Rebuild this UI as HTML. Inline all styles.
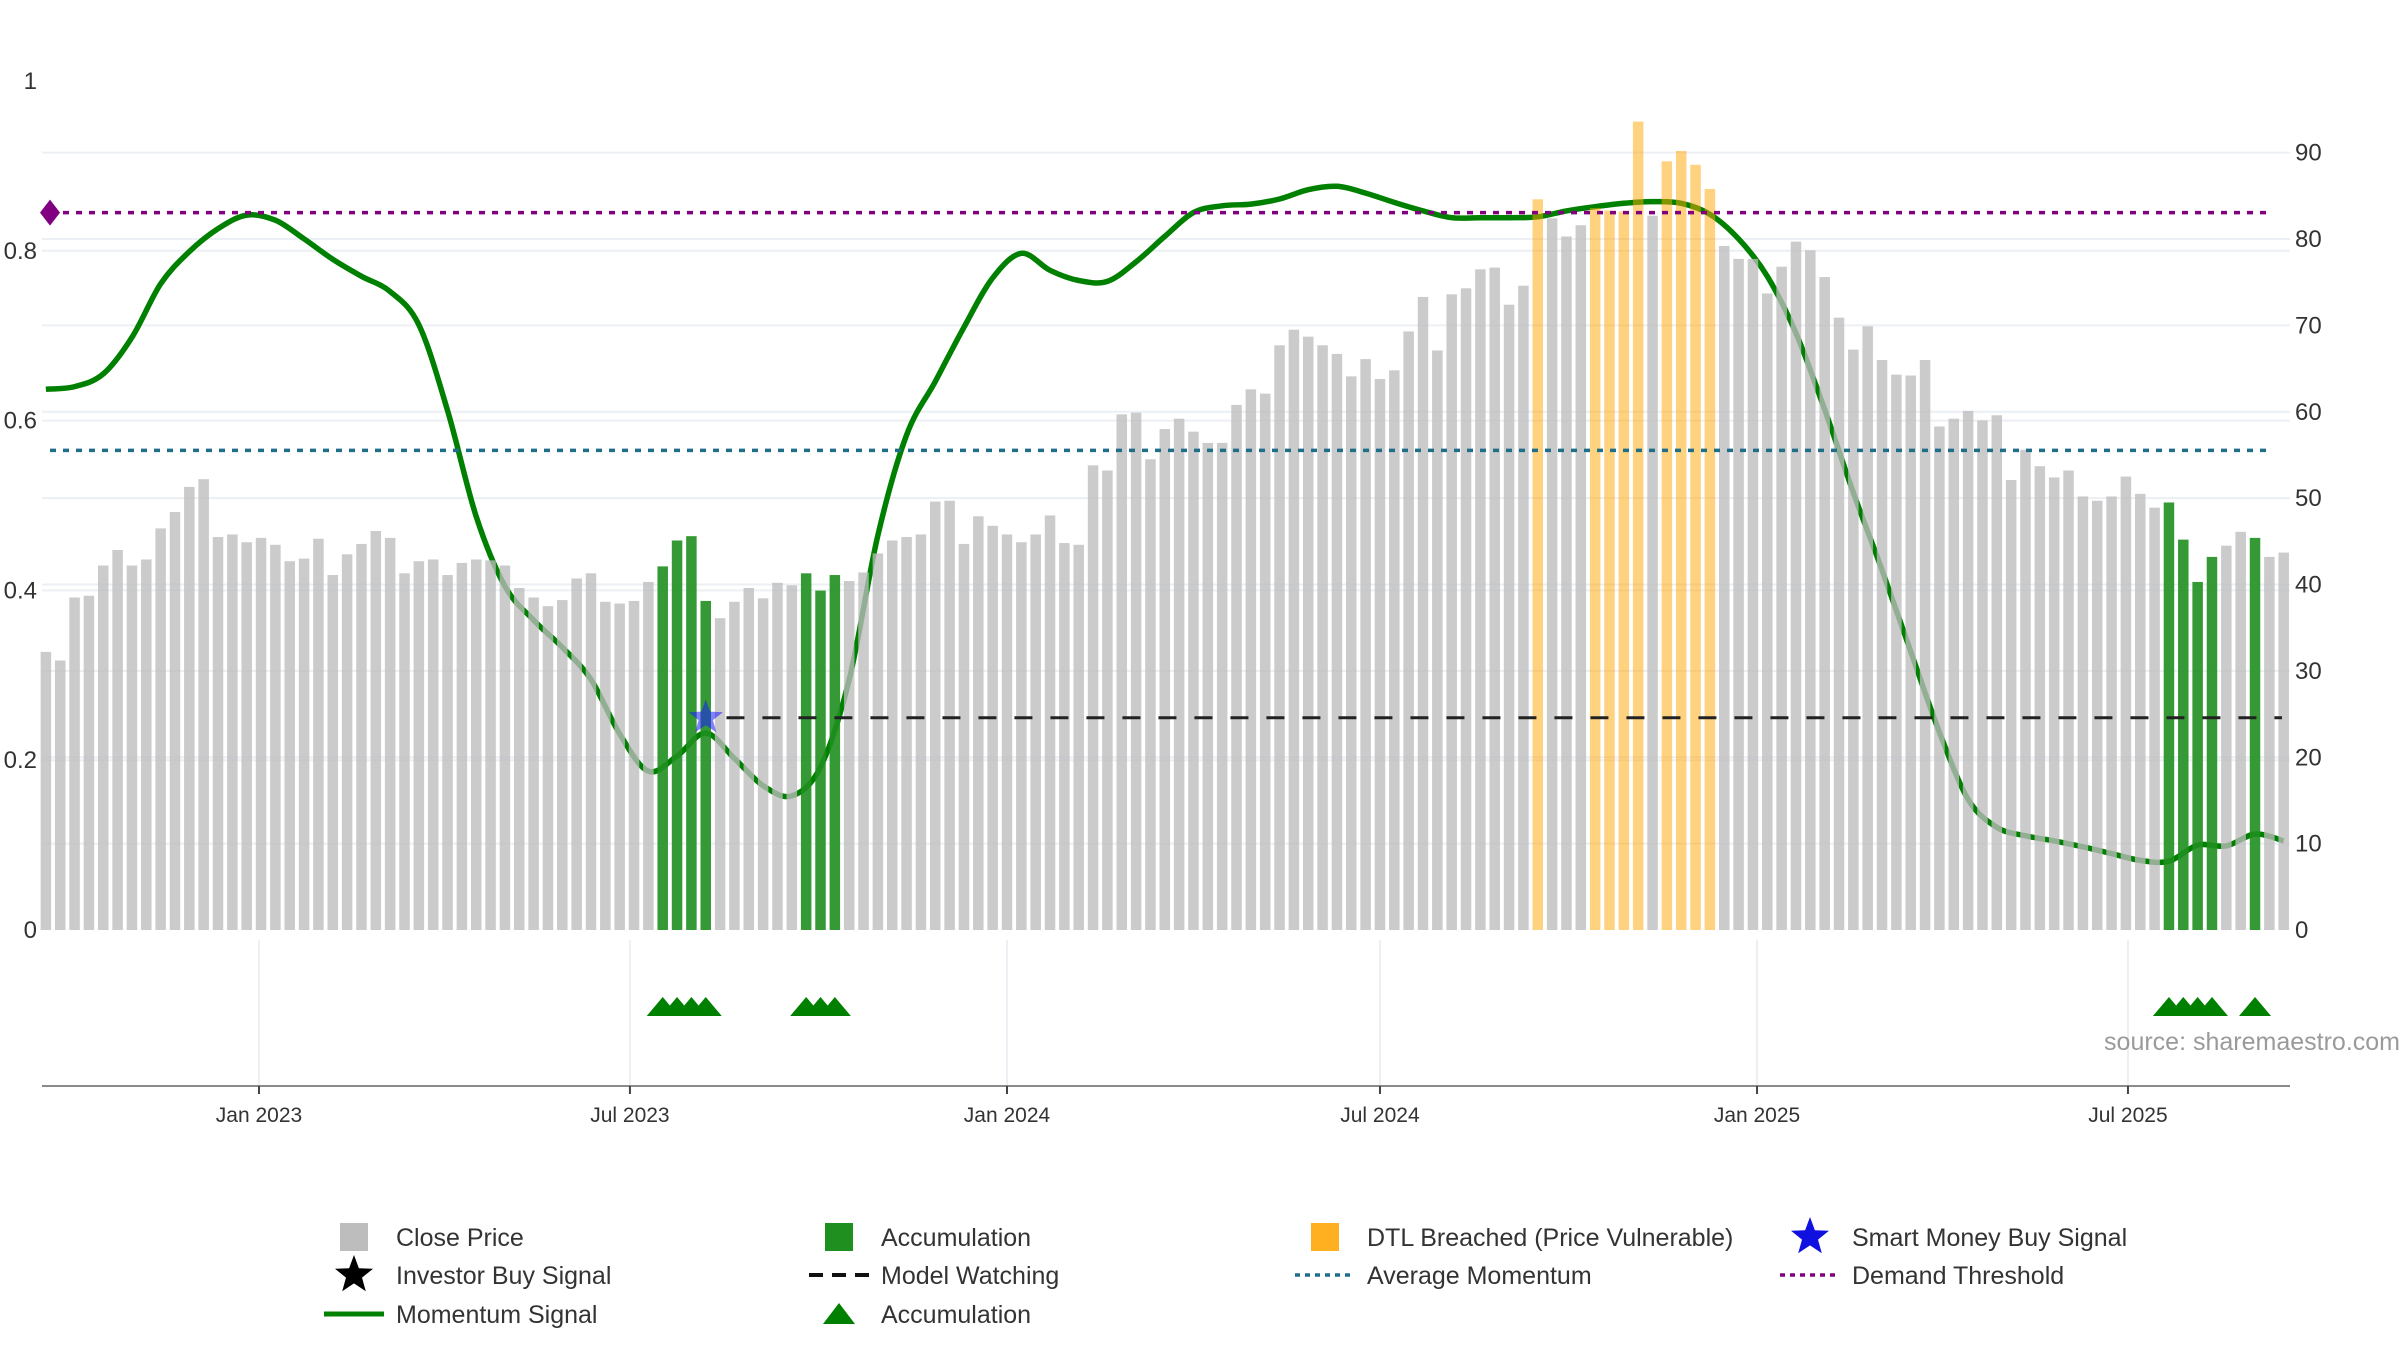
<!DOCTYPE html>
<html><head><meta charset="utf-8"><style>
html,body{margin:0;padding:0;background:#fff;}
svg text{font-family:"Liberation Sans","DejaVu Sans",sans-serif;}
</style></head><body>
<svg id="chart" width="2400" height="1350" viewBox="0 0 2400 1350" xmlns="http://www.w3.org/2000/svg">
<g id="grid"></g>
<g id="lines-under"></g>
<g id="bars"></g>
<g id="refs"></g>
<g id="axes"></g>
<g id="tri"></g>
<text x="2400" y="1050" text-anchor="end" font-size="25" fill="#9a9a9a">source: sharemaestro.com</text>
<g id="legend"></g>
</svg>
<script>
// ---- data ----
const closePrice = [32.2,31.2,38.5,38.7,42.2,44.0,42.2,42.9,46.5,48.4,51.3,52.2,45.5,45.8,44.9,45.4,44.6,42.7,43.0,45.3,41.1,43.5,44.7,46.2,45.4,41.3,42.7,42.9,41.1,42.5,42.9,42.8,42.2,39.6,38.5,37.5,38.2,40.7,41.3,38.0,37.8,38.1,40.3,42.1,45.1,45.6,38.1,36.1,38.0,39.6,38.4,40.2,39.9,41.3,
39.3,41.1,40.4,41.4,43.6,45.1,45.5,45.8,49.6,49.7,44.7,47.9,46.8,45.8,44.9,45.8,48.0,44.8,44.6,53.8,53.2,59.7,59.9,54.5,58.0,59.2,57.7,56.4,56.4,60.8,62.6,62.1,67.7,69.5,68.7,67.7,66.7,64.1,66.1,63.8,64.8,69.3,73.3,67.1,73.6,74.3,76.5,76.7,72.4,74.6,84.6,82.4,80.3,81.6,
83.6,83.3,83.2,93.6,82.7,89.0,90.2,88.6,85.8,79.2,77.7,77.7,73.7,76.8,79.7,78.7,75.6,70.9,67.2,69.9,66.0,64.3,64.2,66.0,58.3,59.2,60.1,59.0,59.6,52.1,55.6,53.7,52.4,53.2,50.2,49.7,50.2,52.5,50.5,48.9,49.5,45.2,40.3,43.2,44.5,46.1,45.4,43.2,43.7];
const accumulationWeeks = [43,44,45,46,53,54,55,148,149,150,151,154];
const dtlWeeks = [104,108,109,110,111,113,114,115,116];
const momentumWeeks = [0,2,4,6,8,10,12,14,16,18,20,22,24,26,28,30,32,34,36,38,40,42,44,46,48,50,52,54,56,58,60,62,64,66,68,70,72,74,76,78,80,82,84,86,88,90,92,94,96,98,100,102,104,106,108,110,112,114,116,118,120,122,124,126,128,130,132,134,136,138,140,142,144,146,148,150,152,154,156];
const momentum = [0.637,0.640,0.655,0.698,0.761,0.799,0.826,0.842,0.836,0.814,0.790,0.770,0.752,0.713,0.612,0.487,0.405,0.365,0.333,0.295,0.231,0.187,0.205,0.232,0.202,0.170,0.158,
0.192,0.295,0.465,0.583,0.646,0.710,0.768,0.797,0.777,0.765,0.764,0.787,0.817,0.845,0.853,0.855,0.861,0.872,0.876,0.868,0.857,0.847,0.839,0.839,0.839,0.840,0.847,0.852,
0.856,0.858,0.856,0.843,0.814,0.770,0.703,0.613,0.515,0.424,0.328,0.233,0.154,0.121,0.111,0.105,0.098,0.090,0.082,0.081,0.100,0.099,0.113,0.105];
const demandThreshold = 0.845;
const averageMomentum = 0.565;
const modelWatching = 0.25;
const modelWatchStartWeek = 48;
const signalWeek = 46;
const leftTicks = [0,0.2,0.4,0.6,0.8,1];
const leftTickLabels = ["0","0.2","0.4","0.6","0.8","1"];
const rightTicks = [0,10,20,30,40,50,60,70,80,90];
const xTickDays = [0,181,365,547,731,912];
const xTickLabels = ["Jan 2023","Jul 2023","Jan 2024","Jul 2024","Jan 2025","Jul 2025"];
const firstWeekDay = -104; // days from Jan 1 2023

// ---- scales ----
const NS="http://www.w3.org/2000/svg";
const X0=42, X1=2290, Y0=930;
const xDay = d => 259 + d*2.0493;
const xWeek = w => xDay(firstWeekDay + 7*w);
const yL = v => Y0 - v*849;
const yR = v => Y0 - v*(849/98.3);
function mk(tag, attrs, parent){const e=document.createElementNS(NS,tag);for(const k in attrs)e.setAttribute(k,attrs[k]);parent.appendChild(e);return e;}
const G=id=>document.getElementById(id);

// grid
rightTicks.forEach(t=>{if(t===0)return;const l=mk('line',{x1:X0,x2:X1,y1:yR(t),y2:yR(t),stroke:'#eceff3','stroke-width':2},G('grid'));

});
leftTicks.forEach(t=>{if(t===0||t===1)return;const l=mk('line',{x1:X0,x2:X1,y1:yL(t),y2:yL(t),stroke:'#eceff3','stroke-width':2},G('grid'));

});
xTickDays.forEach(d=>{const l=mk('line',{x1:xDay(d),x2:xDay(d),y1:940,y2:1086,stroke:'#eceff3','stroke-width':2},G('grid'));

});

// momentum line (smooth)
function smooth(pts){let d=`M${pts[0][0]},${pts[0][1]}`;for(let i=0;i<pts.length-1;i++){const p0=pts[i-1]||pts[i],p1=pts[i],p2=pts[i+1],p3=pts[i+2]||p2;
const c1=[p1[0]+(p2[0]-p0[0])/6,p1[1]+(p2[1]-p0[1])/6],c2=[p2[0]-(p3[0]-p1[0])/6,p2[1]-(p3[1]-p1[1])/6];
d+=` C${c1[0].toFixed(1)},${c1[1].toFixed(1)} ${c2[0].toFixed(1)},${c2[1].toFixed(1)} ${p2[0].toFixed(1)},${p2[1].toFixed(1)}`;}return d;}
const mpts=momentumWeeks.map((w,i)=>[xWeek(w),yL(momentum[i])]);
const ml=mk('path',{d:smooth(mpts),fill:'none',stroke:'#008000','stroke-width':5.5,'stroke-linejoin':'round'},G('lines-under'));



// bars
closePrice.forEach((v,i)=>{let fill='#bdbdbd',op=0.78,name='close-price-bar';
if(accumulationWeeks.includes(i)){fill='#1f8f1f';op=0.9;name='accumulation-bar';}
else if(dtlWeeks.includes(i)){fill='#ffa500';op=0.5;name='dtl-breached-bar';}
const bw=10.5;const r=mk('rect',{x:xWeek(i)-bw/2,y:yR(v),width:bw,height:Y0-yR(v),fill:fill,opacity:op},G('bars'));

});

// reference lines
const dl=mk('line',{x1:50,x2:X1-20,y1:yL(demandThreshold),y2:yL(demandThreshold),stroke:'#800080','stroke-width':3.5,'stroke-dasharray':'6,7'},G('refs'));


const dm=mk('path',{d:`M${50-10},${yL(demandThreshold)} l10,-13 l10,13 l-10,13 z`,fill:'#800080'},G('refs'));


const al=mk('line',{x1:50,x2:X1-20,y1:yL(averageMomentum),y2:yL(averageMomentum),stroke:'#1f6f8b','stroke-width':3.5,'stroke-dasharray':'6,7'},G('refs'));


const wl=mk('line',{x1:xWeek(modelWatchStartWeek)-8,x2:X1-8,y1:yL(modelWatching),y2:yL(modelWatching),stroke:'#222','stroke-width':3,'stroke-dasharray':'18,18'},G('refs'));


function star(cx,cy,r){let p=[];for(let k=0;k<10;k++){const a=-Math.PI/2+k*Math.PI/5,rr=k%2?r*0.42:r;p.push((cx+rr*Math.cos(a)).toFixed(1)+','+(cy+rr*Math.sin(a)).toFixed(1));}return p.join(' ');}
const s1=mk('polygon',{points:star(xWeek(signalWeek),yL(modelWatching),18),fill:'#1a1aff',opacity:0.55},G('refs'));



// axes
const ax=mk('line',{x1:X0,x2:X1,y1:1086,y2:1086,stroke:'#8a8a8a','stroke-width':2},G('axes'));


xTickDays.forEach((d,i)=>{const t=mk('line',{x1:xDay(d),x2:xDay(d),y1:1086,y2:1094,stroke:'#444','stroke-width':2},G('axes'));


const tx=mk('text',{x:xDay(d),y:1122,'text-anchor':'middle','font-size':21,fill:'#333'},G('axes'));tx.textContent=xTickLabels[i];

});
leftTicks.forEach((t,i)=>{const tx=mk('text',{x:37,y:yL(t)+8,'text-anchor':'end','font-size':24,fill:'#333'},G('axes'));tx.textContent=leftTickLabels[i];

});
rightTicks.forEach(t=>{const tx=mk('text',{x:2295,y:yR(t)+8,'text-anchor':'start','font-size':24,fill:'#333'},G('axes'));tx.textContent=String(t);

});

// accumulation triangles
accumulationWeeks.forEach(w=>{const cx=xWeek(w);const p=mk('polygon',{points:`${cx-16},1016 ${cx},997 ${cx+16},1016`,fill:'#008000'},G('tri'));

});

// legend
const legendItems=[
 [354,1237,'sq','#bdbdbd','Close Price'],[839,1237,'sq','#1f8f1f','Accumulation'],[1325,1237,'sq','#ffb020','DTL Breached (Price Vulnerable)'],[1810,1237,'star','#1010e0','Smart Money Buy Signal'],
 [354,1275,'star','#000','Investor Buy Signal'],[839,1275,'dash','#111','Model Watching'],[1325,1275,'dot','#1f6f8b','Average Momentum'],[1810,1275,'dot','#800080','Demand Threshold'],
 [354,1314,'line','#008000','Momentum Signal'],[839,1314,'tri','#008000','Accumulation']];
legendItems.forEach(it=>{const [x,y,k,c,label]=it;const g=mk('g',{},G('legend'));


if(k==='sq')mk('rect',{x:x-14,y:y-14,width:28,height:28,fill:c},g);
if(k==='star')mk('polygon',{points:star(x,y,20),fill:c},g);
if(k==='dash')mk('line',{x1:x-30,x2:x+30,y1:y,y2:y,stroke:c,'stroke-width':4,'stroke-dasharray':'14,9'},g);
if(k==='dot')mk('line',{x1:x-30,x2:x+30,y1:y,y2:y,stroke:c,'stroke-width':3.5,'stroke-dasharray':'5,5'},g);
if(k==='line')mk('line',{x1:x-30,x2:x+30,y1:y,y2:y,stroke:c,'stroke-width':5},g);
if(k==='tri')mk('polygon',{points:`${x-16},${y+10} ${x},${y-11} ${x+16},${y+10}`,fill:c},g);
const t=mk('text',{x:x+42,y:y+9,'font-size':25,fill:'#333'},g);t.textContent=label;});
</script>
</body></html>
